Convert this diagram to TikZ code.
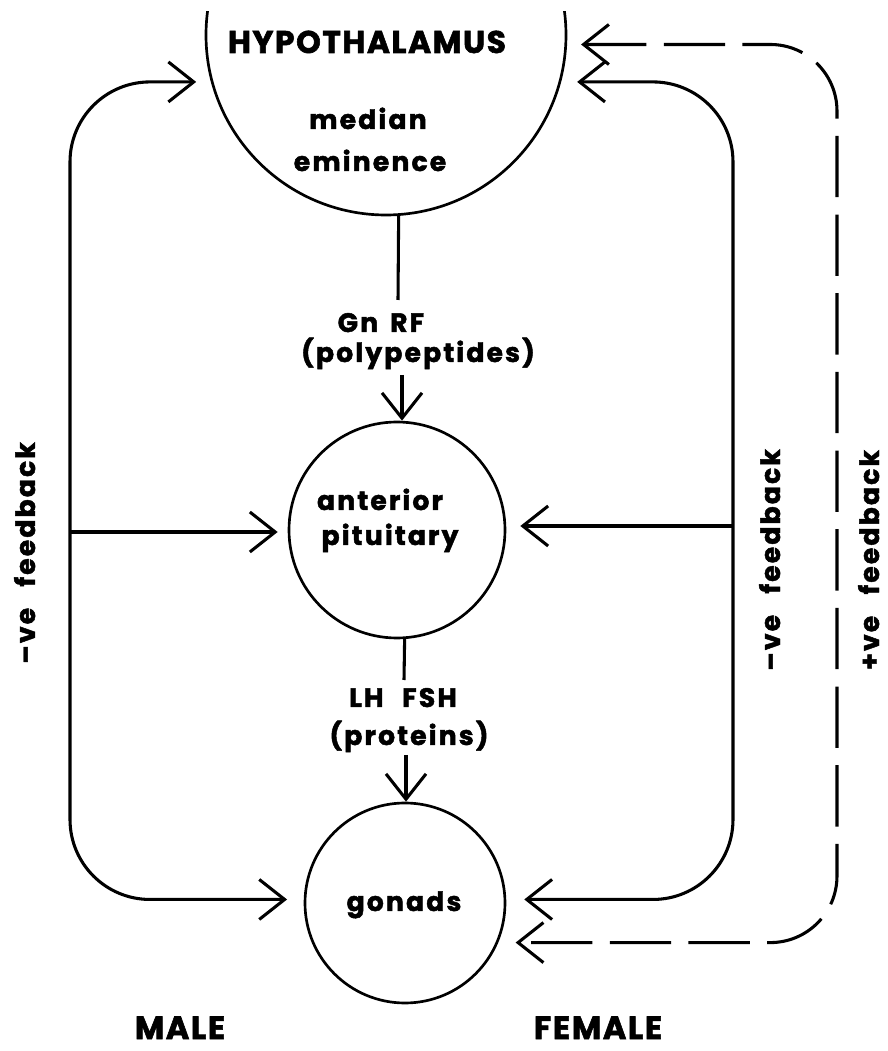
\documentclass[tikz,border=0pt]{standalone}
\usepackage{fontspec}
\setmainfont{Poppins}
\newfontfamily\popl{Poppins}[LetterSpace=8,BoldFeatures={FakeBold=1.8}]
\newfontfamily\popc{Poppins}[LetterSpace=5,BoldFeatures={FakeBold=1.8}]
\usetikzlibrary{arrows.meta,calc}
\begin{document}
\begin{tikzpicture}[x=0.75pt,y=0.75pt,
  >={Straight Barb[length=19pt,width=30pt]},
  circ/.style={circle, draw, line width=2pt, inner sep=0pt},
  conn/.style={line width=2.3pt},
  lbl/.style={font=\popl\bfseries\fontsize{20}{22}\selectfont, inner sep=0pt, text depth=0pt, anchor=base},
  captext/.style={font=\popc\bfseries\fontsize{23.5}{26}\selectfont, inner sep=0pt, text depth=0pt, anchor=base},
  sextext/.style={font=\popc\bfseries\fontsize{24}{28}\selectfont, inner sep=0pt, text depth=0pt, anchor=base}]
\useasboundingbox (0,0) rectangle (888,1051);

% organs
\begin{scope}
  \clip (0,0) rectangle (888,1039);
  \node[circ, minimum size=270pt] (hyp) at (386,1016) {};
\end{scope}
\node[circ, minimum size=162pt] (pit) at (397,521) {};
\node[circ, minimum size=150pt] (gon) at (405,148) {};

% texts
\node[captext] (thyp) at (367,998) {HYPOTHALAMUS};
\node[lbl] (tmed) at (368,922) {median};
\node[lbl] (temi) at (370,880) {eminence};
\node[lbl] (tgn) at (381,719) {Gn\hspace{0.45em}RF};
\node[lbl] (tpoly) at (418,689) {(polypeptides)};
\node[lbl] (tant) at (380,541) {anterior};
\node[lbl] (tpit) at (390,506) {pituitary};
\node[lbl] (tlh) at (403,344) {LH\hspace{0.7em}FSH};
\node[lbl] (tprot) at (409,306) {(proteins)};
\node[lbl] (tgon) at (404,140) {gonads};
\node[sextext] (tmale) at (180,12) {MALE};
\node[sextext] (tfem) at (598,12) {FEMALE};
\node[lbl, rotate=90] (tlfb) at (35,498) {–ve\hspace{0.8em}feedback};
\node[lbl, rotate=90] (trfb) at (780,491) {–ve\hspace{0.8em}feedback};
\node[lbl, rotate=90] (tpfb) at (879,491) {+ve\hspace{0.8em}feedback};

% main chain
\coordinate (gntop) at (398,751);
\draw[conn] (hyp.-86) -- (gntop);
\coordinate (gnbot) at (402,676);
\draw[conn,->] (gnbot) -- (gnbot |- pit.north);
\coordinate (lhtop) at (404,371);
\draw[conn] (pit.-86) -- (lhtop);
\coordinate (lhbot) at (406,296);
\draw[conn,->] (lhbot) -- (lhbot |- gon.north);

% male negative feedback
\coordinate (lsp) at (70,519);
\draw[conn,<->,rounded corners=60pt,shorten <=11pt,shorten >=12.5pt]
  (hyp.195) -| (lsp) |- (gon.178);
\draw[conn,->,shorten >=7.5pt] (lsp) -- (lsp -| pit.west);

% female negative feedback
\coordinate (rsp) at (733,525);
\draw[conn,<->,rounded corners=60pt,shorten <=12pt,shorten >=13.5pt]
  (hyp.-15) -| (rsp) |- (gon.2);
\draw[conn,->,shorten >=10.5pt] (rsp) -- (rsp -| pit.east);

% female positive feedback
\coordinate (dsp) at (837,525);
\draw[conn,dash pattern=on 46pt off 13pt,<->,rounded corners=50pt,shorten <=10.5pt,shorten >=13pt]
  (hyp.-3) -| (dsp) |- (gon.-23.6);
\end{tikzpicture}
\end{document}
